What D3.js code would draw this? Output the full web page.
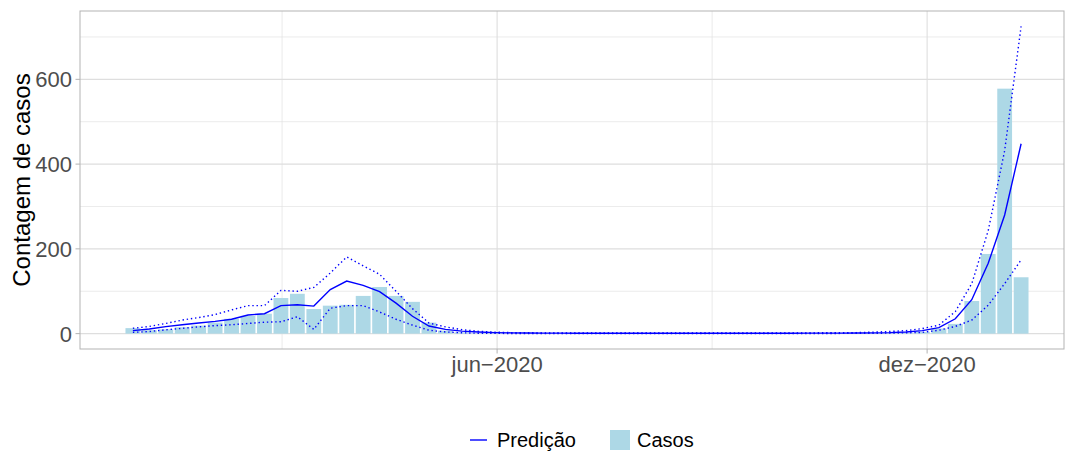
<html>
<head>
    <title>casos vs predicao</title>
</head>
<body style="margin: 0; background: #fff;">
    <svg></svg>
</body>

<script src="https://cdn.jsdelivr.net/npm/d3@7"></script>
<script>
const width = 1065;
const height = 452;

// first week (sunday) and number of weeks
const firstWeek = new Date(Date.UTC(2019, 11, 29));
const nWeeks = 55;

// weekly cases (bars)
const casos = [13, 8, 10, 15, 19, 26, 35, 42, 47, 84,
               94, 58, 66, 68, 89, 110, 89, 75, 26, 7,
               3, 1, 1, 0, 0, 0, 0, 0, 0, 0,
               0, 0, 0, 0, 0, 0, 0, 0, 0, 0,
               0, 0, 0, 0, 0, 1, 1, 2, 4, 12,
               23, 77, 188, 578, 133];

// model prediction and bounds
const predicao = [7, 11, 16.5, 21, 25, 29, 34, 44, 47, 66,
                  68, 65, 104, 124, 114, 99, 72, 41, 18, 10,
                  6, 4, 2.5, 1.8, 1.4, 1.2, 1.1, 1, 1, 1,
                  1, 1, 1, 1, 1, 1, 1, 1, 1, 1,
                  1, 1.1, 1.2, 1.3, 1.5, 1.7, 2.4, 4, 7, 14,
                  35, 80, 166, 280, 448];
const superior = [12.6, 17, 24, 32, 38, 45, 56, 66, 66, 102,
                  100, 109, 143, 181, 160, 140, 100, 59, 25, 16,
                  9.5, 5.5, 3.5, 2.5, 2, 1.8, 1.7, 1.6, 1.6, 1.6,
                  1.6, 1.6, 1.6, 1.6, 1.6, 1.6, 1.6, 1.6, 1.6, 1.6,
                  1.7, 1.8, 2, 2.2, 2.5, 3.5, 5, 7, 12, 20,
                  52, 118, 243, 432, 725];
const inferior = [3, 5, 9, 12.6, 16, 19, 21, 24, 27, 28,
                  40, 10, 60, 66, 66, 51, 34, 20, 8, 4,
                  2, 1, 0.6, 0.4, 0.4, 0.4, 0.4, 0.4, 0.4, 0.4,
                  0.4, 0.4, 0.4, 0.4, 0.4, 0.4, 0.4, 0.4, 0.4, 0.4,
                  0.4, 0.4, 0.4, 0.5, 0.6, 0.8, 1.2, 2, 3, 8,
                  17, 32, 67, 118, 174];

const yTicks = [0, 200, 400, 600];
const xTickDates = [new Date(Date.UTC(2020, 5, 1)), new Date(Date.UTC(2020, 11, 1))];
const xTickLabels = ["jun\u22122020", "dez\u22122020"];

const DAY = 864e5;
const semanas = d3.range(nWeeks).map(i => new Date(firstWeek.getTime() + i * 7 * DAY));
const rows = semanas.map((d, i) => ({
    date: d, casos: casos[i], pred: predicao[i], sup: superior[i], inf: inferior[i]
}));

const m = {left: 80, right: 1064, top: 11, bottom: 349};

const x = d3.scaleUtc()
    .domain([new Date(Date.UTC(2019, 11, 6, 12)), new Date(Date.UTC(2021, 0, 28, 6))])
    .range([m.left, m.right]);

const ymax = d3.max(rows, d => Math.max(d.casos, d.sup));
const y = d3.scaleLinear()
    .domain([-0.05 * ymax, 1.05 * ymax])
    .range([m.bottom, m.top]);

const svg = d3.select("svg")
    .attr("width", width)
    .attr("height", height)
    .style("font-family", "'Liberation Sans', Arial, sans-serif");

// grid
const yMinor = yTicks.map(v => v + 100).filter(v => v < y.domain()[1]);
const span = xTickDates[1] - xTickDates[0];
const xMinor = [new Date(xTickDates[0].getTime() - span / 2), new Date(xTickDates[0].getTime() + span / 2)];

const grid = svg.append("g");
grid.selectAll(".ymin").data(yMinor).join("line")
    .attr("x1", m.left).attr("x2", m.right)
    .attr("y1", d => y(d)).attr("y2", d => y(d))
    .attr("stroke", "#e3e3e3").attr("stroke-width", 0.7);
grid.selectAll(".xmin").data(xMinor).join("line")
    .attr("x1", d => x(d)).attr("x2", d => x(d))
    .attr("y1", m.top).attr("y2", m.bottom)
    .attr("stroke", "#e3e3e3").attr("stroke-width", 0.7);
grid.selectAll(".ymaj").data(yTicks).join("line")
    .attr("x1", m.left).attr("x2", m.right)
    .attr("y1", d => y(d)).attr("y2", d => y(d))
    .attr("stroke", "#dedede").attr("stroke-width", 1.1);
grid.selectAll(".xmaj").data(xTickDates).join("line")
    .attr("x1", d => x(d)).attr("x2", d => x(d))
    .attr("y1", m.top).attr("y2", m.bottom)
    .attr("stroke", "#dedede").attr("stroke-width", 1.1);

// bars
const bw = x(new Date(firstWeek.getTime() + 6.3 * DAY)) - x(firstWeek);
svg.append("g")
    .selectAll("rect")
    .data(rows.filter(d => d.casos > 0))
    .join("rect")
        .attr("x", d => x(d.date) - bw / 2)
        .attr("width", bw)
        .attr("y", d => y(d.casos))
        .attr("height", d => y(0) - y(d.casos))
        .attr("fill", "lightblue");

// lines
const line = key => d3.line().x(d => x(d.date)).y(d => y(d[key]))(rows);
svg.append("path").attr("d", line("sup"))
    .attr("fill", "none").attr("stroke", "blue").attr("stroke-width", 1.4)
    .attr("stroke-dasharray", "1.4 2.8");
svg.append("path").attr("d", line("inf"))
    .attr("fill", "none").attr("stroke", "blue").attr("stroke-width", 1.4)
    .attr("stroke-dasharray", "1.4 2.8");
svg.append("path").attr("d", line("pred"))
    .attr("fill", "none").attr("stroke", "blue").attr("stroke-width", 1.4);

// panel border
svg.append("rect")
    .attr("x", m.left).attr("y", m.top)
    .attr("width", m.right - m.left).attr("height", m.bottom - m.top)
    .attr("fill", "none").attr("stroke", "#b3b3b3").attr("stroke-width", 1);

// axes
const yAxis = svg.append("g");
yAxis.selectAll("line").data(yTicks).join("line")
    .attr("x1", m.left - 4.5).attr("x2", m.left)
    .attr("y1", d => y(d)).attr("y2", d => y(d))
    .attr("stroke", "#b3b3b3");
yAxis.selectAll("text").data(yTicks).join("text")
    .attr("x", m.left - 8).attr("y", d => y(d))
    .attr("dy", "0.36em")
    .attr("text-anchor", "end")
    .attr("fill", "#4d4d4d")
    .style("font-size", "22px")
    .text(d => d);

const xAxis = svg.append("g");
xAxis.selectAll("line").data(xTickDates).join("line")
    .attr("x1", d => x(d)).attr("x2", d => x(d))
    .attr("y1", m.bottom).attr("y2", m.bottom + 4.5)
    .attr("stroke", "#b3b3b3");
xAxis.selectAll("text").data(xTickDates).join("text")
    .attr("x", d => x(d)).attr("y", 372)
    .attr("text-anchor", "middle")
    .attr("fill", "#4d4d4d")
    .style("font-size", "22px")
    .text((d, i) => xTickLabels[i]);

svg.append("text")
    .attr("transform", `translate(30, ${(m.top + m.bottom) / 2}) rotate(-90)`)
    .attr("text-anchor", "middle")
    .attr("fill", "#000")
    .style("font-size", "24px")
    .text("Contagem de casos");

// legend
const leg = svg.append("g");
leg.append("line")
    .attr("x1", 470).attr("x2", 487).attr("y1", 440).attr("y2", 440)
    .attr("stroke", "blue").attr("stroke-width", 1.4);
leg.append("text").attr("x", 497).attr("y", 447)
    .style("font-size", "20px").attr("fill", "#000").text("Predição");
leg.append("rect")
    .attr("x", 610).attr("y", 430).attr("width", 20).attr("height", 20)
    .attr("fill", "lightblue");
leg.append("text").attr("x", 637).attr("y", 447)
    .style("font-size", "20px").attr("fill", "#000").text("Casos");
</script>
</html>
